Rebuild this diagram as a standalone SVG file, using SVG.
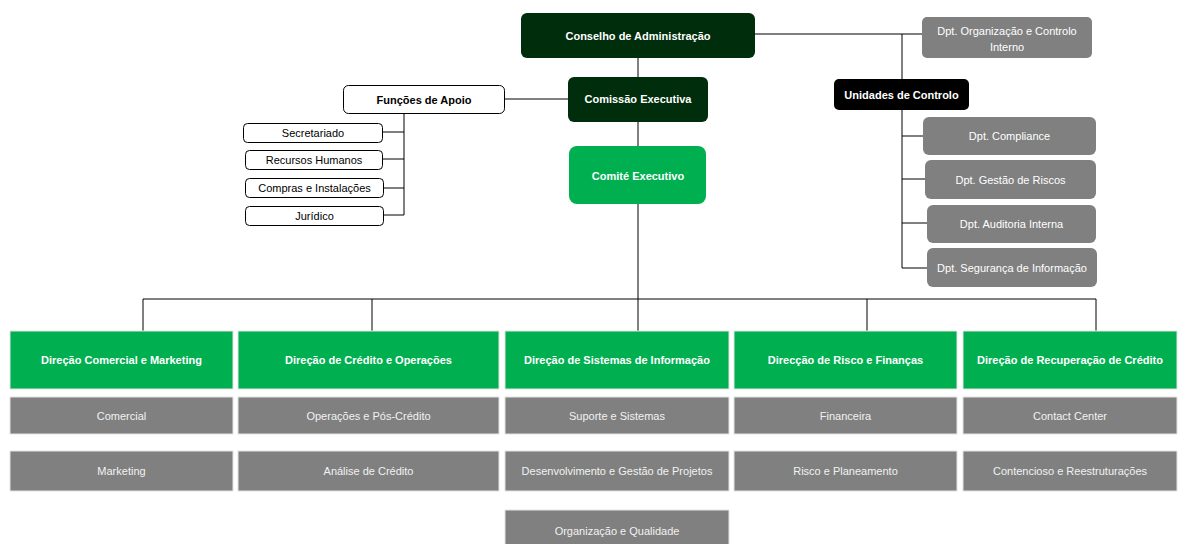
<svg xmlns="http://www.w3.org/2000/svg" width="1178" height="544" viewBox="0 0 1178 544">
<style>
.t{font-family:"Liberation Sans",Arial,sans-serif;font-size:11px;text-anchor:middle}
.b{font-weight:bold}
.w{fill:#ffffff}
.lw{fill:#f2f2f2}
.k{fill:#000000}
.dark{fill:#002d0b}
.green{fill:#00b050;stroke:#e3e3e3;stroke-width:1}
.gray{fill:#808080;stroke:#e3e3e3;stroke-width:1}
.grayr{fill:#808080}
.sup{fill:#ffffff;stroke:#000000;stroke-width:1}
.ln{stroke:#000000;stroke-width:1;fill:none}
</style>
<rect width="1178" height="544" fill="#ffffff"/>
<g id="connectors">
<path class="ln" d="M638 58V77M638 122V146M638 204V299M143 299H1096M143 299V331M372 299V331M867 299V331M1096 299V331M638 299V331"/>
<path class="ln" d="M755 34H902V268M902 34H922"/>
<path class="ln" d="M902 136H923M902 179H925M902 223H927M902 268H927"/>
<path class="ln" d="M505 99H568M404 114V215M383 132H404M383 159H404M384 188H404M384 215H404"/>
</g>
<g id="conselho"><rect class="dark" x="521" y="13" width="234" height="45" rx="6"/><text class="t b w" x="638" y="40">Conselho de Administração</text></g>
<g id="comissao"><rect class="dark" x="568" y="77" width="140" height="45" rx="6"/><text class="t b w" x="638" y="103">Comissão  Executiva</text></g>
<g id="comite"><rect fill="#00b050" x="569" y="146" width="137" height="58" rx="8"/><text class="t b w" x="638" y="180">Comité Executivo</text></g>
<g id="org-controlo"><rect class="grayr" x="922" y="17" width="170" height="41" rx="5"/><text class="t w" x="1007" y="35">Dpt. Organização e Controlo</text><text class="t w" x="1007" y="51">Interno</text></g>
<g id="unidades"><rect fill="#000000" x="834" y="79" width="135" height="31" rx="5"/><text class="t b w" x="901.5" y="99">Unidades de Controlo</text></g>
<g id="compliance"><rect class="grayr" x="923" y="117" width="173" height="38" rx="6"/><text class="t w" x="1009.5" y="140">Dpt. Compliance</text></g>
<g id="riscos"><rect class="grayr" x="925" y="160" width="171" height="39" rx="6"/><text class="t w" x="1010.5" y="183.5">Dpt. Gestão de Riscos</text></g>
<g id="auditoria"><rect class="grayr" x="927" y="205" width="169" height="38" rx="6"/><text class="t w" x="1011.5" y="228">Dpt. Auditoria Interna</text></g>
<g id="seguranca"><rect class="grayr" x="927" y="248" width="170" height="39" rx="6"/><text class="t w" x="1012" y="271.5">Dpt. Segurança de Informação</text></g>
<g id="funcoes"><rect class="sup" x="343.5" y="85.5" width="161" height="28" rx="5"/><text class="t b k" x="424" y="103.5">Funções de Apoio</text></g>
<g id="secretariado"><rect class="sup" x="243.5" y="123.5" width="139" height="19" rx="4"/><text class="t k" x="313" y="137">Secretariado</text></g>
<g id="rh"><rect class="sup" x="245.5" y="150.5" width="137" height="19" rx="4"/><text class="t k" x="314" y="164">Recursos Humanos</text></g>
<g id="compras"><rect class="sup" x="245.5" y="178.5" width="138" height="19" rx="4"/><text class="t k" x="314.5" y="192">Compras e Instalações</text></g>
<g id="juridico"><rect class="sup" x="245.5" y="206.5" width="138" height="19" rx="4"/><text class="t k" x="314.5" y="220">Jurídico</text></g>
<g id="dir-comercial"><rect class="green" x="10" y="331" width="223" height="58"/><text class="t b w" x="121.5" y="363.5">Direção Comercial e Marketing</text></g>
<g id="dir-credito"><rect class="green" x="238" y="331" width="261" height="58"/><text class="t b w" x="368.5" y="363.5">Direção de Crédito e Operações</text></g>
<g id="dir-si"><rect class="green" x="505" y="331" width="224" height="58"/><text class="t b w" x="617" y="363.5">Direção de Sistemas de Informação</text></g>
<g id="dir-risco"><rect class="green" x="734" y="331" width="223" height="58"/><text class="t b w" x="845.5" y="363.5">Direcção de Risco e Finanças</text></g>
<g id="dir-recuperacao"><rect class="green" x="963" y="331" width="214" height="58"/><text class="t b w" x="1070" y="363.5">Direção de Recuperação de Crédito</text></g>
<g id="comercial"><rect class="gray" x="10" y="397" width="223" height="37"/><text class="t lw" x="121.5" y="419.5">Comercial</text></g>
<g id="marketing"><rect class="gray" x="10" y="451" width="223" height="40"/><text class="t lw" x="121.5" y="475">Marketing</text></g>
<g id="operacoes"><rect class="gray" x="238" y="397" width="261" height="37"/><text class="t lw" x="368.5" y="419.5">Operações e Pós-Crédito</text></g>
<g id="analise"><rect class="gray" x="238" y="451" width="261" height="40"/><text class="t lw" x="368.5" y="475">Análise de Crédito</text></g>
<g id="suporte"><rect class="gray" x="505" y="397" width="224" height="37"/><text class="t lw" x="617" y="419.5">Suporte e Sistemas</text></g>
<g id="desenvolvimento"><rect class="gray" x="505" y="451" width="224" height="40"/><text class="t lw" x="617" y="475">Desenvolvimento e Gestão de Projetos</text></g>
<g id="organizacao"><rect class="gray" x="505" y="510" width="224" height="40"/><text class="t lw" x="617" y="535">Organização e Qualidade</text></g>
<g id="financeira"><rect class="gray" x="734" y="397" width="223" height="37"/><text class="t lw" x="845.5" y="419.5">Financeira</text></g>
<g id="planeamento"><rect class="gray" x="734" y="451" width="223" height="40"/><text class="t lw" x="845.5" y="475">Risco e Planeamento</text></g>
<g id="contact"><rect class="gray" x="963" y="397" width="214" height="37"/><text class="t lw" x="1070" y="419.5">Contact Center</text></g>
<g id="contencioso"><rect class="gray" x="963" y="451" width="214" height="40"/><text class="t lw" x="1070" y="475">Contencioso e Reestruturações</text></g>
</svg>
